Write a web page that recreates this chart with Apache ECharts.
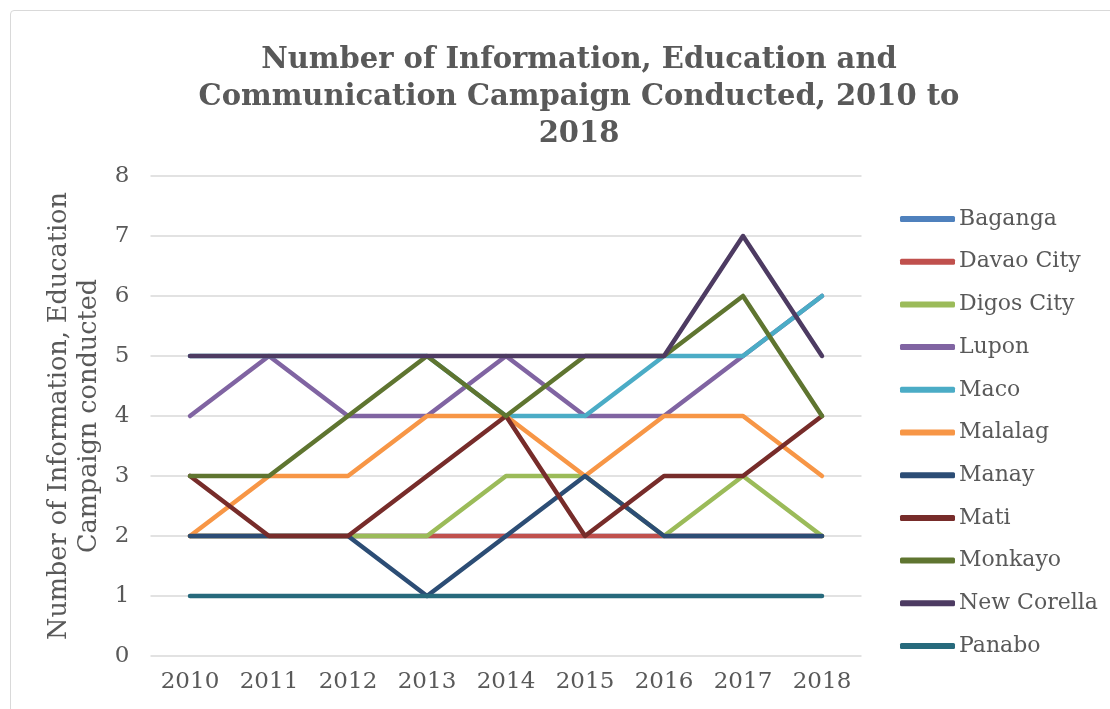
<!DOCTYPE html>
<html>
<head>
<meta charset="utf-8">
<script src="https://cdn.jsdelivr.net/npm/echarts@6/dist/echarts.min.js"></script>
<style>
  html, body { margin: 0; padding: 0; background: #ffffff; }
  #frame { position: absolute; left: 10px; top: 10px; width: 1120px; height: 720px;
           border: 1.5px solid #d9d9d9; border-radius: 4px; box-sizing: border-box; }
  #chart { position: absolute; left: 0; top: 0; width: 1110px; height: 709px; }
</style>
</head>
<body>
<div id="frame"></div>
<div id="chart"></div>
<script>
// Campaign counts per municipality, 2010-2018
const years = ['2010', '2011', '2012', '2013', '2014', '2015', '2016', '2017', '2018'];

const baganga    = [2, 2, 2, 2, 2, 2, 2, 2, 2];
const davaoCity  = [2, 2, 2, 2, 2, 2, 2, 2, 2];
const digosCity  = [2, 2, 2, 2, 3, 3, 2, 3, 2];
const lupon      = [4, 5, 4, 4, 5, 4, 4, 5, 6];
const maco       = [5, 5, 5, 5, 4, 4, 5, 5, 6];
const malalag    = [2, 3, 3, 4, 4, 3, 4, 4, 3];
const manay      = [2, 2, 2, 1, 2, 3, 2, 2, 2];
const mati       = [3, 2, 2, 3, 4, 2, 3, 3, 4];
const monkayo    = [3, 3, 4, 5, 4, 5, 5, 6, 4];
const newCorella = [5, 5, 5, 5, 5, 5, 5, 7, 5];
const panabo     = [1, 1, 1, 1, 1, 1, 1, 1, 1];

const seriesNames = ['Baganga', 'Davao City', 'Digos City', 'Lupon', 'Maco', 'Malalag',
                     'Manay', 'Mati', 'Monkayo', 'New Corella', 'Panabo'];
const seriesData = [baganga, davaoCity, digosCity, lupon, maco, malalag,
                    manay, mati, monkayo, newCorella, panabo];
const seriesColors = ['#4F81BD', '#C0504D', '#9BBB59', '#8064A2', '#4BACC6', '#F79646',
                      '#2C4D75', '#772C2A', '#5F7530', '#4D3B62', '#276A7C'];

const yTicks = [0, 1, 2, 3, 4, 5, 6, 7, 8];

const FONT = '"DejaVu Serif", serif';
const TEXT = '#595959';

const chart = echarts.init(document.getElementById('chart'), null, { renderer: 'canvas' });

chart.setOption({
  animation: false,
  backgroundColor: 'transparent',
  color: seriesColors,
  title: {
    text: 'Number of Information, Education and\nCommunication Campaign Conducted, 2010 to\n2018',
    left: 574,
    textAlign: 'center',
    top: 37,
    textStyle: {
      fontFamily: FONT, fontWeight: 'bold', fontSize: 29, lineHeight: 37, color: TEXT
    }
  },
  legend: {
    orient: 'vertical',
    left: 900,
    top: 207,
    padding: 0,
    itemWidth: 55,
    itemHeight: 6,
    itemGap: 18.7,
    icon: 'roundRect',
    textStyle: { fontFamily: FONT, fontSize: 22, color: TEXT, lineHeight: 24, padding: [0, 0, 0, -1] },
    data: seriesNames
  },
  grid: { left: 150.5, right: 248.5, top: 176, bottom: 53, containLabel: false },
  xAxis: {
    type: 'category',
    data: years,
    boundaryGap: true,
    axisLine: { show: false },
    axisTick: { show: false },
    axisLabel: { fontFamily: FONT, fontSize: 23, color: TEXT, margin: 15 },
    splitLine: { show: false }
  },
  yAxis: {
    type: 'value',
    min: yTicks[0],
    max: yTicks[yTicks.length - 1],
    interval: 1,
    name: 'Number of Information, Education\nCampaign conducted',
    nameLocation: 'middle',
    nameRotate: 90,
    nameGap: 43,
    nameTextStyle: { fontFamily: FONT, fontSize: 25.5, color: TEXT, lineHeight: 30 },
    axisLine: { show: false },
    axisTick: { show: false },
    axisLabel: { fontFamily: FONT, fontSize: 23, color: TEXT, margin: 21 },
    splitLine: { lineStyle: { color: '#d9d9d9', width: 1.5 } }
  },
  series: seriesNames.map((name, i) => ({
    name: name,
    type: 'line',
    data: seriesData[i],
    symbol: 'none',
    showSymbol: false,
    lineStyle: { width: 4.5, color: seriesColors[i], cap: 'round', join: 'round' },
    itemStyle: { color: seriesColors[i] },
    z: 2 + i
  }))
});
</script>
</body>
</html>
